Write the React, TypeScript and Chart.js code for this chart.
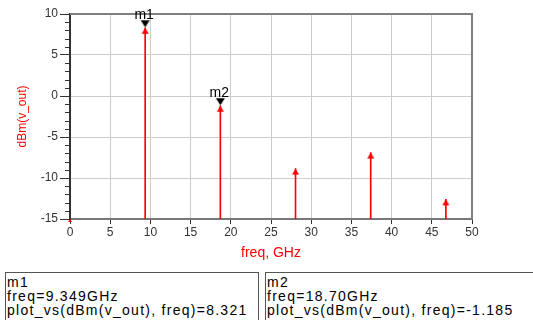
import React, { useEffect, useRef } from "react";
import { Chart, registerables } from "chart.js";

Chart.register(...registerables);

// ---- data ----
const harmonicFreqs = [0, 9.349, 18.7, 28.05, 37.4, 46.75]; // GHz
const harmonicLevels = [-15, 8.321, -1.185, -8.85, -6.9, -12.6]; // dBm
const markerNames = ["m1", "m2"];
const markerFreqs = [9.349, 18.7];
const markerLevels = [8.321, -1.185];
const xTickValues = [0, 5, 10, 15, 20, 25, 30, 35, 40, 45, 50];
const yTickValues = [-15, -10, -5, 0, 5, 10];
const yFloor = -15;
const xTitle = "freq, GHz";
const yTitle = "dBm(v_out)";
const traceExpr = "plot_vs(dBm(v_out), freq)";

const FONT = '"Liberation Sans", Arial, sans-serif';

function makeUpTriangle(w: number, h: number, color: string) {
  const c = document.createElement("canvas");
  c.width = w + 2;
  c.height = h * 2 + 2;
  const g = c.getContext("2d")!;
  const cx = c.width / 2;
  const cy = c.height / 2;
  g.fillStyle = color;
  g.beginPath();
  g.moveTo(cx, cy);
  g.lineTo(cx + w / 2, cy + h);
  g.lineTo(cx - w / 2, cy + h);
  g.closePath();
  g.fill();
  return c;
}

function makeDownMarker(w: number, h: number, gap: number, color: string) {
  const c = document.createElement("canvas");
  c.width = w + 2;
  c.height = (h + gap) * 2 + 2;
  const g = c.getContext("2d")!;
  const cx = c.width / 2;
  const cy = c.height / 2;
  g.fillStyle = color;
  g.beginPath();
  g.moveTo(cx - w / 2, cy - gap - h);
  g.lineTo(cx + w / 2, cy - gap - h);
  g.lineTo(cx, cy - gap);
  g.closePath();
  g.fill();
  return c;
}

const decorPlugin = {
  id: "decor",
  afterDatasetsDraw(chart: any) {
    const { ctx, chartArea, scales } = chart;
    const { left, right, top } = chartArea;
    const y = scales.y;
    ctx.save();
    // minor ticks on y axis
    ctx.strokeStyle = "#333333";
    ctx.lineWidth = 1;
    for (let v = y.min; v <= y.max; v += 1) {
      if (v % 5 === 0) continue;
      const py = Math.round(y.getPixelForValue(v)) + 0.5;
      ctx.beginPath();
      ctx.moveTo(left - 5, py);
      ctx.lineTo(left, py);
      ctx.stroke();
    }
    // top and right frame
    ctx.strokeStyle = "#808080";
    ctx.lineWidth = 2;
    ctx.beginPath();
    ctx.moveTo(left, top);
    ctx.lineTo(right, top);
    ctx.lineTo(right, chartArea.bottom);
    ctx.stroke();
    // marker labels
    const meta = chart.getDatasetMeta(0);
    ctx.fillStyle = "#000000";
    ctx.font = `14px ${FONT}`;
    ctx.textAlign = "center";
    ctx.textBaseline = "alphabetic";
    meta.data.forEach((pt: any, i: number) => {
      ctx.fillText(markerNames[i], pt.x - 1, pt.y - 9);
    });
    ctx.restore();
  },
};

function ChartView() {
  const ref = useRef<HTMLCanvasElement | null>(null);
  useEffect(() => {
    if (!ref.current) return;
    const redTri = makeUpTriangle(7, 6, "#ff0000");
    const smallTri = makeUpTriangle(4, 3, "#ff0000");
    const blackMarker = makeDownMarker(9, 7, 0.5, "#000000");
    const chart = new Chart(ref.current, {
      type: "scatter",
      data: {
        datasets: [
          {
            type: "scatter",
            data: markerFreqs.map((f, i) => ({ x: f, y: markerLevels[i] })),
            pointStyle: blackMarker as any,
            clip: false as any,
          },
          {
            type: "scatter",
            data: harmonicFreqs.map((f, i) => ({ x: f, y: harmonicLevels[i] })),
            pointStyle: ((c: any) => (c.dataIndex === 0 ? smallTri : redTri)) as any,
            clip: false as any,
          },
          {
            type: "bar",
            data: harmonicFreqs.map((f, i) => ({ x: f, y: [yFloor, harmonicLevels[i]] })) as any,
            backgroundColor: "#ff0000",
            borderWidth: 0,
            barThickness: 1,
            grouped: false,
          } as any,
        ],
      },
      options: {
        responsive: false,
        animation: false,
        events: [],
        layout: { padding: { top: 14, right: 61, left: 0, bottom: 0 } },
        plugins: { legend: { display: false }, tooltip: { enabled: false } },
        scales: {
          x: {
            type: "linear",
            min: 0,
            max: 50,
            offset: false,
            afterFit: (s: any) => {
              s.height = 46;
            },
            afterBuildTicks: (s: any) => {
              s.ticks = xTickValues.map((v) => ({ value: v }));
            },
            ticks: {
              color: "#333333",
              font: { family: FONT, size: 12 },
              padding: 1,
              maxRotation: 0,
              autoSkip: false,
            },
            grid: {
              offset: false,
              color: "#cccccc",
              lineWidth: 1,
              tickLength: 5,
              tickColor: "#333333",
            },
            border: { color: "#777777", width: 2 },
            title: {
              display: true,
              text: xTitle,
              color: "#ff0000",
              font: { family: FONT, size: 14 },
              padding: { top: 0, bottom: 3 },
            },
          },
          y: {
            type: "linear",
            min: -15,
            max: 10,
            afterFit: (s: any) => {
              s.width = 70;
            },
            afterBuildTicks: (s: any) => {
              s.ticks = yTickValues.map((v) => ({ value: v }));
            },
            ticks: {
              color: "#333333",
              font: { family: FONT, size: 12 },
              padding: 2,
              autoSkip: false,
            },
            grid: {
              color: "#cccccc",
              lineWidth: 1,
              tickLength: 10,
              tickColor: "#333333",
            },
            border: { color: "#333333", width: 2 },
            title: {
              display: true,
              text: yTitle,
              color: "#ff0000",
              font: { family: FONT, size: 12 },
              padding: { top: 15, bottom: 0 },
            },
          },
        },
      },
      plugins: [decorPlugin],
    });
    return () => chart.destroy();
  }, []);
  return (
    <canvas
      ref={ref}
      width={533}
      height={265}
      style={{ position: "absolute", left: 0, top: 0, width: 533, height: 265 }}
    />
  );
}

const boxText: React.CSSProperties = {
  fontFamily: FONT,
  fontSize: 14,
  lineHeight: "14px",
  letterSpacing: "1.27px",
  color: "#000",
  whiteSpace: "nowrap",
};

function MarkerBox({ i, left, width, rightBorder }: { i: number; left: number; width: number; rightBorder: boolean }) {
  return (
    <div
      style={{
        position: "absolute",
        left,
        top: 272,
        width,
        height: 50,
        boxSizing: "border-box",
        border: "1px solid #555",
        borderRight: rightBorder ? "1px solid #555" : "none",
        paddingLeft: 1,
        paddingTop: 2,
        ...boxText,
      }}
    >
      <div>{markerNames[i]}</div>
      <div>freq={markerFreqs[i].toPrecision(4)}GHz</div>
      <div>
        {traceExpr}={markerLevels[i].toFixed(3)}
      </div>
    </div>
  );
}

export default function App() {
  useEffect(() => {
    document.body.style.margin = "0";
  }, []);
  return (
    <div style={{ position: "absolute", left: 0, top: 0, width: 533, height: 320, overflow: "hidden", background: "#fff" }}>
      <ChartView />
      <MarkerBox i={0} left={5} width={254} rightBorder={true} />
      <MarkerBox i={1} left={265} width={300} rightBorder={false} />
    </div>
  );
}
